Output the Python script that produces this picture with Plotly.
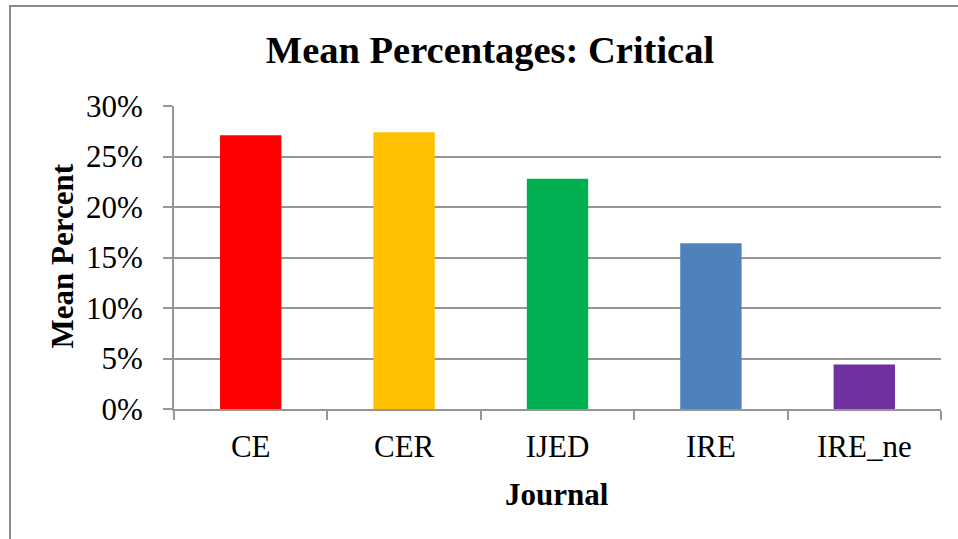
import plotly.graph_objects as go

# Mean share of "critical" content per journal
journals = ["CE", "CER", "IJED", "IRE", "IRE_ne"]
mean_pct = [0.271, 0.274, 0.228, 0.164, 0.044]
bar_colors = ["#FF0000", "#FFC000", "#00B050", "#4F81BD", "#7030A0"]
y_ticks = [0.0, 0.05, 0.10, 0.15, 0.20, 0.25, 0.30]
y_tick_labels = ["0%", "5%", "10%", "15%", "20%", "25%", "30%"]

W, H = 958, 539
L, R, T, B = 174, 17, 106, 130
plot_w = W - L - R
plot_h = H - T - B

serif = "Liberation Serif, Times New Roman, serif"
grey = "#969696"

fig = go.Figure(
    go.Bar(
        x=journals,
        y=mean_pct,
        marker=dict(color=bar_colors, line=dict(width=0)),
        width=0.4,
        hoverinfo="x+y",
    )
)


def px_x(px):
    return (px - L) / plot_w


def px_y(py):
    return (H - B - py) / plot_h


fig.update_layout(
    width=W,
    height=H,
    margin=dict(l=L, r=R, t=T, b=B),
    paper_bgcolor="white",
    plot_bgcolor="white",
    showlegend=False,
    font=dict(family=serif, color="black", size=31),
    title=dict(
        text="<b>Mean Percentages: Critical</b>",
        font=dict(family=serif, size=38.5, color="black"),
        x=490 / W,
        xanchor="center",
        y=1 - 50 / H,
        yanchor="middle",
        xref="container",
        yref="container",
    ),
    xaxis=dict(
        type="category",
        range=[-0.5, len(journals) - 0.5],
        showline=True,
        linecolor=grey,
        linewidth=2,
        ticks="outside",
        tickson="boundaries",
        ticklen=9,
        tickwidth=2,
        tickcolor=grey,
        showgrid=False,
        tickfont=dict(family=serif, size=31, color="black"),
        ticklabelstandoff=9,
    ),
    yaxis=dict(
        range=[0, 0.30],
        tickvals=y_ticks,
        ticktext=y_tick_labels,
        showline=True,
        linecolor=grey,
        linewidth=2,
        ticks="outside",
        ticklen=9,
        tickwidth=2,
        tickcolor=grey,
        showgrid=True,
        gridcolor=grey,
        gridwidth=2,
        zeroline=False,
        tickfont=dict(family=serif, size=31, color="black"),
        ticklabelstandoff=14,
    ),
    annotations=[
        dict(
            text="<b>Mean Percent</b>",
            x=px_x(62),
            y=px_y(256.5),
            xref="paper",
            yref="paper",
            textangle=-90,
            showarrow=False,
            xanchor="center",
            yanchor="middle",
            font=dict(family=serif, size=31, color="black"),
        ),
        dict(
            text="<b>Journal</b>",
            x=px_x(557),
            y=px_y(494),
            xref="paper",
            yref="paper",
            showarrow=False,
            xanchor="center",
            yanchor="middle",
            font=dict(family=serif, size=31, color="black"),
        ),
    ],
    shapes=[
        # outer chart frame (left and top edges visible)
        dict(
            type="rect",
            xref="paper",
            yref="paper",
            x0=px_x(10),
            x1=px_x(W + 20),
            y0=px_y(H + 20),
            y1=px_y(6),
            line=dict(color="#8c8c8c", width=2),
            fillcolor="rgba(0,0,0,0)",
            layer="below",
        )
    ],
)

fig.write_html("out.html")
